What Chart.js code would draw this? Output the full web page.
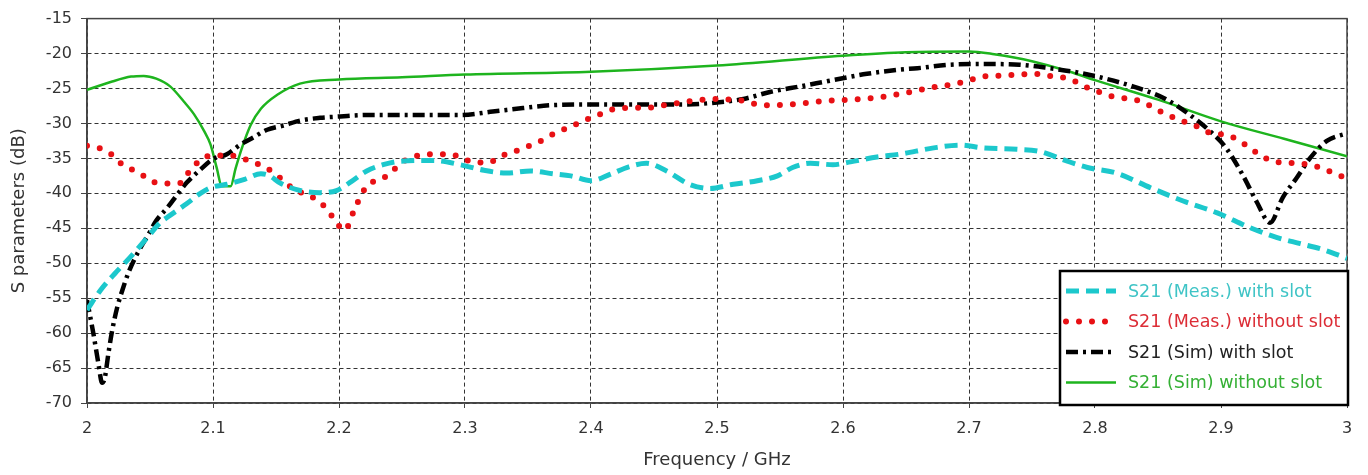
<!DOCTYPE html>
<html>
<head>
<meta charset="utf-8">
<script src="https://cdn.jsdelivr.net/npm/chart.js@4.4.1/dist/chart.umd.min.js"></script>
<style>
  html, body { margin: 0; padding: 0; background: #fff; }
  #wrap { width: 1368px; height: 475px; position: relative; }
</style>
</head>
<body>
<div id="wrap"><canvas id="chart-1"></canvas></div>
<script>
  // S21 (Meas.) with slot
  const measSlotFreq = [2.000, 2.011, 2.022, 2.034, 2.048, 2.058, 2.064, 2.079, 2.090, 2.098, 2.111, 2.125, 2.138, 2.145, 2.153, 2.169, 2.185, 2.198, 2.210, 2.222, 2.235, 2.249, 2.275, 2.296, 2.315, 2.333, 2.352, 2.370, 2.384, 2.400, 2.415, 2.430, 2.444, 2.460, 2.478, 2.494, 2.513, 2.532, 2.548, 2.560, 2.574, 2.592, 2.606, 2.627, 2.645, 2.672, 2.693, 2.711, 2.738, 2.756, 2.778, 2.794, 2.817, 2.844, 2.870, 2.897, 2.923, 2.944, 2.963, 2.980, 3.000];
  const measSlotDb = [-56.7, -53.8, -51.5, -49.2, -46.3, -44.2, -43.4, -41.5, -40.0, -39.2, -38.7, -38.0, -37.2, -37.5, -38.5, -39.6, -39.9, -39.6, -38.3, -36.8, -35.9, -35.4, -35.3, -35.9, -36.7, -37.1, -36.8, -37.2, -37.5, -38.2, -37.3, -36.2, -35.7, -36.8, -38.7, -39.3, -38.7, -38.2, -37.5, -36.3, -35.7, -35.9, -35.5, -34.8, -34.4, -33.5, -33.1, -33.5, -33.7, -34.0, -35.4, -36.3, -37.1, -39.2, -41.1, -42.8, -44.9, -46.3, -47.2, -48.0, -49.3];

  // S21 (Meas.) without slot
  const measNoSlotFreq = [2.000, 2.011, 2.020, 2.028, 2.037, 2.046, 2.055, 2.066, 2.075, 2.081, 2.089, 2.098, 2.108, 2.119, 2.128, 2.138, 2.147, 2.156, 2.164, 2.173, 2.183, 2.190, 2.197, 2.204, 2.209, 2.212, 2.217, 2.222, 2.232, 2.241, 2.248, 2.258, 2.268, 2.288, 2.299, 2.309, 2.319, 2.328, 2.338, 2.348, 2.358, 2.368, 2.378, 2.387, 2.397, 2.407, 2.417, 2.427, 2.448, 2.458, 2.469, 2.479, 2.490, 2.501, 2.512, 2.522, 2.532, 2.543, 2.564, 2.585, 2.607, 2.627, 2.638, 2.648, 2.659, 2.669, 2.680, 2.690, 2.701, 2.711, 2.722, 2.742, 2.753, 2.763, 2.774, 2.783, 2.794, 2.803, 2.813, 2.824, 2.834, 2.844, 2.853, 2.863, 2.873, 2.882, 2.892, 2.903, 2.913, 2.922, 2.930, 2.941, 2.951, 2.961, 2.972, 2.982, 2.991, 3.000];
  const measNoSlotDb = [-33.2, -33.6, -34.5, -35.9, -36.7, -37.6, -38.5, -38.6, -38.5, -36.9, -35.4, -34.6, -34.6, -34.7, -35.3, -36.0, -36.9, -38.2, -39.4, -40.1, -41.0, -42.2, -43.9, -45.3, -44.0, -42.3, -40.6, -38.9, -38.1, -37.1, -35.8, -34.9, -34.4, -34.4, -35.1, -35.6, -35.6, -34.7, -34.1, -33.4, -32.7, -31.7, -30.9, -30.2, -29.4, -28.7, -28.0, -27.8, -27.7, -27.4, -27.1, -26.8, -26.6, -26.5, -26.6, -26.8, -27.3, -27.4, -27.2, -26.8, -26.6, -26.3, -26.0, -25.7, -25.3, -24.9, -24.6, -24.3, -23.8, -23.3, -23.2, -23.0, -22.9, -23.2, -23.4, -23.9, -24.9, -25.5, -26.1, -26.4, -26.7, -27.5, -28.4, -29.2, -29.9, -30.5, -31.4, -31.6, -32.3, -33.4, -34.4, -35.4, -35.6, -35.7, -36.0, -36.5, -37.3, -37.8];

  // S21 (Sim) with slot
  const simSlotFreq = [2.000, 2.005, 2.009, 2.012, 2.014, 2.017, 2.020, 2.024, 2.028, 2.033, 2.040, 2.049, 2.055, 2.064, 2.072, 2.079, 2.090, 2.100, 2.111, 2.122, 2.132, 2.143, 2.156, 2.169, 2.185, 2.201, 2.222, 2.296, 2.322, 2.346, 2.368, 2.400, 2.473, 2.500, 2.521, 2.542, 2.566, 2.592, 2.619, 2.645, 2.659, 2.685, 2.714, 2.740, 2.764, 2.786, 2.804, 2.830, 2.856, 2.877, 2.893, 2.904, 2.917, 2.928, 2.939, 2.949, 2.960, 2.971, 2.984, 3.000];
  const simSlotDb = [-55.3, -60.0, -64.3, -67.1, -66.5, -62.9, -59.6, -56.3, -53.9, -51.3, -48.6, -45.8, -43.9, -42.0, -40.1, -38.5, -36.6, -35.1, -34.4, -33.0, -32.0, -30.9, -30.3, -29.6, -29.2, -29.0, -28.8, -28.8, -28.3, -27.8, -27.4, -27.3, -27.3, -27.0, -26.5, -25.5, -24.7, -23.8, -22.9, -22.3, -22.1, -21.6, -21.5, -21.6, -22.1, -22.7, -23.4, -24.7, -26.5, -29.0, -31.4, -33.5, -37.3, -41.1, -44.2, -40.6, -37.8, -34.9, -32.5, -31.4];

  // S21 (Sim) without slot
  const simNoSlotFreq = [2.000, 2.020, 2.035, 2.045, 2.055, 2.066, 2.077, 2.085, 2.093, 2.098, 2.103, 2.107, 2.114, 2.118, 2.123, 2.130, 2.138, 2.151, 2.169, 2.200, 2.250, 2.300, 2.400, 2.500, 2.600, 2.650, 2.700, 2.720, 2.750, 2.780, 2.800, 2.850, 2.900, 2.950, 3.000];
  const simNoSlotDb = [-25.2, -24.0, -23.3, -23.2, -23.6, -24.7, -26.9, -28.7, -31.1, -33.0, -36.4, -39.0, -39.0, -36.4, -33.5, -30.2, -27.9, -25.9, -24.3, -23.7, -23.4, -23.0, -22.6, -21.7, -20.3, -19.8, -19.7, -20.1, -21.1, -22.6, -23.8, -26.6, -29.7, -32.2, -34.7];

  const seriesLabels = [
    'S21 (Meas.) with slot',
    'S21 (Meas.) without slot',
    'S21 (Sim) with slot',
    'S21 (Sim) without slot'
  ];
  const legendTextColors = ['#3fc4c6', '#dc2d36', '#222222', '#35b035'];

  const toPoints = (xs, ys) => xs.map((x, i) => ({ x: x, y: ys[i] }));

  const boxLegend = {
    id: 'boxLegend',
    beforeDatasetsDraw(chart) {
      // solid frame on the top and right edges
      const { ctx, chartArea } = chart;
      ctx.save();
      ctx.strokeStyle = '#444';
      ctx.lineWidth = 1.5;
      ctx.setLineDash([]);
      ctx.strokeRect(chartArea.left, chartArea.top, chartArea.right - chartArea.left, chartArea.bottom - chartArea.top);
      ctx.restore();
    },
    afterDraw(chart) {
      const { ctx, chartArea } = chart;
      const w = 288, h = 134;
      const x0 = chartArea.right + 1 - w;
      const y0 = chartArea.bottom + 2 - h;
      ctx.save();
      ctx.fillStyle = '#fff';
      ctx.fillRect(x0, y0, w, h);
      ctx.lineWidth = 2.5;
      ctx.strokeStyle = '#000';
      ctx.setLineDash([]);
      ctx.strokeRect(x0, y0, w, h);
      chart.data.datasets.forEach((ds, i) => {
        const y = y0 + 20 + i * 30.5;
        ctx.beginPath();
        ctx.setLineDash(ds.borderDash || []);
        ctx.lineCap = ds.borderCapStyle || 'butt';
        ctx.lineWidth = ds.borderWidth;
        ctx.strokeStyle = ds.borderColor;
        ctx.moveTo(x0 + 6, y);
        ctx.lineTo(x0 + 56, y);
        ctx.stroke();
        ctx.setLineDash([]);
        ctx.fillStyle = legendTextColors[i];
        ctx.font = '17.5px "DejaVu Sans"';
        ctx.textBaseline = 'middle';
        ctx.textAlign = 'left';
        ctx.fillText(ds.label, x0 + 68, y + 1);
      });
      ctx.restore();
    }
  };

  const sData = {
    datasets: [{
      label: seriesLabels[0],
      data: toPoints(measSlotFreq, measSlotDb),
      borderColor: 'rgb(28, 200, 204)',
      borderWidth: 5,
      borderDash: [13, 7]
    }, {
      label: seriesLabels[1],
      data: toPoints(measNoSlotFreq, measNoSlotDb),
      borderColor: 'rgb(232, 16, 20)',
      borderWidth: 6,
      borderDash: [0, 13],
      borderCapStyle: 'round'
    }, {
      label: seriesLabels[2],
      data: toPoints(simSlotFreq, simSlotDb),
      borderColor: 'rgb(0, 0, 0)',
      borderWidth: 4.5,
      borderDash: [12, 5, 3, 5]
    }, {
      label: seriesLabels[3],
      data: toPoints(simNoSlotFreq, simNoSlotDb),
      borderColor: 'rgb(30, 180, 30)',
      borderWidth: 2.5
    }]
  };

  const sConfig = {
    type: 'line',
    data: sData,
    options: {
      responsive: true,
      maintainAspectRatio: false,
      animation: false,
      layout: { padding: { top: 17, right: 21, left: 0, bottom: 0 } },
      elements: {
        point: { radius: 0 },
        line: { cubicInterpolationMode: 'monotone', fill: false }
      },
      plugins: {
        legend: { display: false },
        tooltip: { enabled: false }
      },
      scales: {
        x: {
          type: 'linear',
          min: 2,
          max: 3,
          afterFit: (scale) => { scale.height = 72; },
          ticks: {
            stepSize: 0.1,
            padding: 11,
            color: '#333',
            font: { family: 'DejaVu Sans', size: 16 },
            callback: (v) => Number(v.toFixed(1)).toString()
          },
          grid: { color: '#333', lineWidth: 1, tickLength: 5, tickColor: '#444' },
          border: { display: true, color: '#444', width: 1.5, dash: [4, 3] },
          title: {
            display: true,
            text: 'Frequency / GHz',
            color: '#333',
            font: { family: 'DejaVu Sans', size: 18 },
            padding: { top: 0, bottom: 4 }
          }
        },
        y: {
          min: -70,
          max: -15,
          afterFit: (scale) => { scale.width = 87; },
          ticks: {
            stepSize: 5,
            padding: 9,
            color: '#333',
            font: { family: 'DejaVu Sans', size: 16 }
          },
          grid: { color: '#333', lineWidth: 1, tickLength: 6, tickColor: '#444' },
          border: { display: true, color: '#444', width: 1.5, dash: [4, 3] },
          title: {
            display: true,
            text: 'S parameters (dB)',
            color: '#333',
            font: { family: 'DejaVu Sans', size: 18 },
            padding: { top: 9, bottom: 0 }
          }
        }
      }
    },
    plugins: [boxLegend]
  };

  const chart1 = new Chart(
    document.getElementById('chart-1'),
    sConfig
  );
</script>
</body>
</html>
